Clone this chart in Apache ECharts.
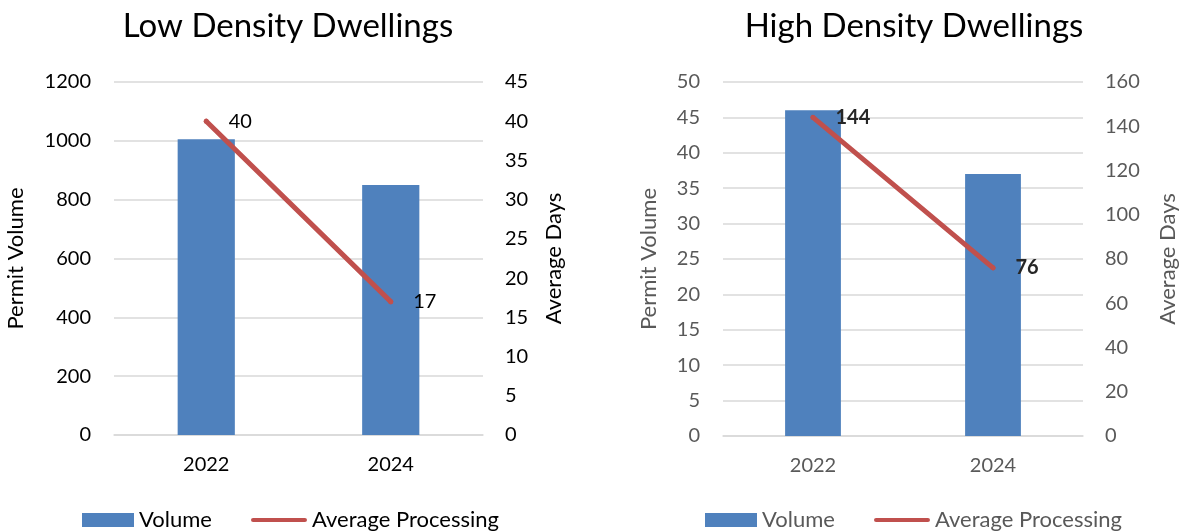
<!DOCTYPE html>
<html>
<head>
<meta charset="utf-8">
<script src="https://cdn.jsdelivr.net/npm/echarts@6/dist/echarts.min.js"></script>
<style>
  html, body { margin: 0; padding: 0; background: #fff; }
  #chart { width: 1180px; height: 531px; }
</style>
</head>
<body>
<div id="chart"></div>
<script>
// Permit data by year
const years = ['2022', '2024'];
const lowVolume = [1005, 850];
const lowDays = [40, 17];
const highVolume = [46, 37];
const highDays = [144, 76];

const titles = ['Low Density Dwellings', 'High Density Dwellings'];
const seriesNames = ['Volume', 'Average Processing'];

const FONT = 'Lato, "Open Sans", sans-serif';
const BLUE = '#4F81BD';
const RED = '#C0504D';
const GRID = '#D9D9D9';

const panels = [
  { grid: { left: 114, right: 1180 - 483, top: 82, bottom: 531 - 435 }, text: '#000000', labelColor: '#000000', labelWeight: 'normal',
    titleX: 283, vol: lowVolume, days: lowDays,
    leftAxis: { max: 1200, interval: 200, nameGap: 87 }, rightAxis: { max: 45, interval: 5, nameGap: 60 } },
  { grid: { left: 723, right: 1180 - 1083, top: 82, bottom: 531 - 436 }, text: '#595959', labelColor: '#262626', labelWeight: 'bold',
    titleX: 909, vol: highVolume, days: highDays,
    leftAxis: { max: 50, interval: 5, nameGap: 63 }, rightAxis: { max: 160, interval: 20, nameGap: 74 } }
];

const plain = v => String(v);

const option = {
  animation: false,
  backgroundColor: '#ffffff',
  title: panels.map((p, i) => ({
    text: titles[i],
    left: p.titleX, top: 5, textAlign: 'center',
    textStyle: { fontFamily: FONT, fontSize: 33, fontWeight: 'normal', color: '#000000' }
  })),
  legend: [],
  grid: panels.map(p => p.grid),
  xAxis: panels.map((p, i) => ({
    type: 'category', gridIndex: i, data: years,
    axisLine: { lineStyle: { color: GRID, width: 1.5 } },
    axisTick: { show: false },
    axisLabel: { color: p.text, fontFamily: FONT, fontSize: 20, margin: 20 }
  })),
  yAxis: [],
  series: []
};

panels.forEach((p, i) => {
  option.yAxis.push({
    type: 'value', gridIndex: i, min: 0, max: p.leftAxis.max, interval: p.leftAxis.interval,
    name: 'Permit Volume', nameLocation: 'middle', nameGap: p.leftAxis.nameGap,
    nameTextStyle: { color: p.text, fontFamily: FONT, fontSize: 22 },
    axisLine: { show: false }, axisTick: { show: false },
    axisLabel: { color: p.text, fontFamily: FONT, fontSize: 20, margin: 23, formatter: plain },
    splitLine: { lineStyle: { color: GRID, width: 1.5 } }
  });
  option.yAxis.push({
    type: 'value', gridIndex: i, position: 'right', min: 0, max: p.rightAxis.max, interval: p.rightAxis.interval,
    name: 'Average Days', nameLocation: 'middle', nameGap: p.rightAxis.nameGap,
    nameTextStyle: { color: p.text, fontFamily: FONT, fontSize: 22 },
    axisLine: { show: false }, axisTick: { show: false },
    axisLabel: { color: p.text, fontFamily: FONT, fontSize: 20, margin: 22, formatter: plain },
    splitLine: { show: false }
  });
  option.series.push({
    name: seriesNames[0], type: 'bar', xAxisIndex: i, yAxisIndex: i * 2,
    data: p.vol, barWidth: '31%', itemStyle: { color: BLUE }
  });
  option.series.push({
    name: seriesNames[1], type: 'line', xAxisIndex: i, yAxisIndex: i * 2 + 1,
    data: p.days, symbol: 'circle', symbolSize: 5, showSymbol: true,
    lineStyle: { color: RED, width: 5, cap: 'round' }, itemStyle: { color: RED },
    label: { show: true, position: 'right', distance: 20, color: p.labelColor, fontWeight: p.labelWeight,
             fontFamily: FONT, fontSize: 20 }
  });
  // legend: bar swatch and line swatch, placed under each panel
  const legendText = { color: p.text, fontFamily: FONT, fontSize: 22 };
  const base = i === 0 ? 82 : 705;
  option.legend.push({
    left: base, top: 509, itemWidth: 52, itemHeight: 14, itemGap: 0,
    data: [{ name: seriesNames[0], icon: 'rect' }], textStyle: legendText, padding: 0,
    selectedMode: false
  });
  option.legend.push({
    left: base + 169, top: 509, itemWidth: 56, itemHeight: 14, itemGap: 0,
    data: [{ name: seriesNames[1], icon: 'path://M3,5 L53,5 A2,2 0 0 1 53,9 L3,9 A2,2 0 0 1 3,5 Z' }],
    textStyle: legendText, padding: 0, selectedMode: false
  });
});

const chart = echarts.init(document.getElementById('chart'), null, { renderer: 'canvas' });
chart.setOption(option);
</script>
</body>
</html>
